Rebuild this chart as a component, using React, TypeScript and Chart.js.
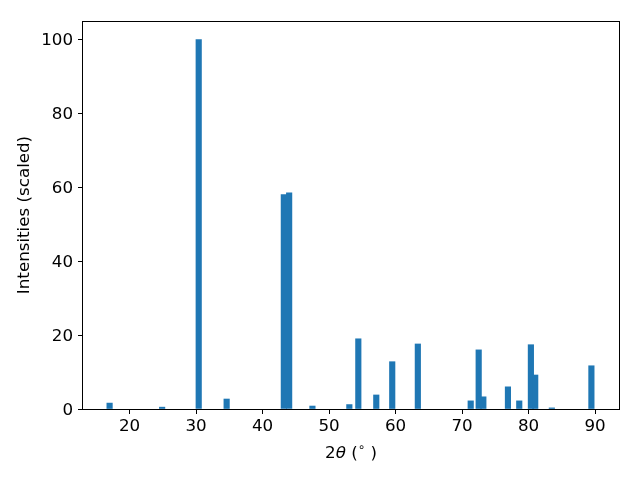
import { useEffect, useRef } from "react";
import { Chart, registerables } from "chart.js";

Chart.register(...registerables);

// Peak positions (2θ, degrees) and scaled intensities
const twoTheta = [17.0, 24.9, 30.4, 34.6, 43.2, 44.0, 47.5, 53.05, 54.4, 57.1, 59.5, 63.35, 71.3, 72.5, 73.2, 76.9, 78.6, 80.35, 81.0, 83.5, 89.45];
const intensities = [1.6, 0.5, 100, 2.7, 58.0, 58.5, 0.8, 1.2, 19.0, 3.8, 12.8, 17.6, 2.2, 16.0, 3.3, 6.0, 2.2, 17.4, 9.2, 0.3, 11.7];

const xTickValues = [20, 30, 40, 50, 60, 70, 80, 90];
const yTickValues = [0, 20, 40, 60, 80, 100];

const yLabel = "Intensities (scaled)";
// x label pieces: [text, style]
const xLabelParts: [string, string][] = [
  ["2", "normal"],
  ["θ", "italic"],
  [" (", "normal"],
  ["∘", "sup"],
  [" )", "normal"],
];

const FS = 16.7;
const FAMILY = "'DejaVu Sans', sans-serif";

const framePlugin = {
  id: "frame",
  afterDraw(chart: any) {
    const { ctx, chartArea: a } = chart;
    ctx.save();
    ctx.strokeStyle = "#000";
    ctx.lineWidth = 1;
    ctx.strokeRect(a.left - 0.5, a.top + 0.5, a.right - a.left + 1, a.bottom - a.top);

    // x axis label with mathtext-like styling
    const fontFor = (st: string) =>
      st === "italic" ? `italic ${FS}px ${FAMILY}` : st === "sup" ? `${FS * 0.7}px ${FAMILY}` : `${FS}px ${FAMILY}`;
    let total = 0;
    const widths = xLabelParts.map(([t, st]) => {
      ctx.font = fontFor(st);
      const w = ctx.measureText(t).width;
      total += w;
      return w;
    });
    const cx = (a.left + a.right) / 2;
    const baseY = 458;
    let x = cx - total / 2;
    ctx.fillStyle = "#000";
    ctx.textBaseline = "alphabetic";
    ctx.textAlign = "left";
    xLabelParts.forEach(([t, st], i) => {
      ctx.font = fontFor(st);
      ctx.fillText(t, x, st === "sup" ? baseY - FS * 0.42 : baseY);
      x += widths[i];
    });
    ctx.restore();
  },
};

export default function App() {
  const ref = useRef<HTMLCanvasElement | null>(null);
  useEffect(() => {
    if (!ref.current) return;
    Chart.defaults.font.family = FAMILY;
    const chart = new Chart(ref.current, {
      type: "bar",
      data: {
        datasets: [
          {
            data: twoTheta.map((x, i) => ({ x, y: intensities[i] })),
            backgroundColor: "#1f77b4",
            borderWidth: 0,
            barThickness: 5.5,
          },
        ],
      },
      options: {
        animation: false,
        responsive: false,
        maintainAspectRatio: false,
        layout: { padding: { top: 21, right: 21, left: 0, bottom: 0 } },
        plugins: { legend: { display: false }, tooltip: { enabled: false } },
        scales: {
          x: {
            type: "linear",
            min: 13,
            max: 93.6,
            offset: false,
            afterBuildTicks: (s: any) => {
              s.ticks = xTickValues.map((v) => ({ value: v }));
            },
            afterFit: (s: any) => {
              s.height = 71;
            },
            grid: { offset: false, drawOnChartArea: false, drawTicks: true, tickLength: 5, tickColor: "#000", tickWidth: 1 },
            border: { display: false },
            ticks: { color: "#000", font: { size: FS }, padding: 3, maxRotation: 0, autoSkip: false },
            title: { display: false },
          },
          y: {
            type: "linear",
            min: 0,
            max: 105,
            afterBuildTicks: (s: any) => {
              s.ticks = yTickValues.map((v) => ({ value: v }));
            },
            afterFit: (s: any) => {
              s.width = 83;
            },
            grid: { drawOnChartArea: false, drawTicks: true, tickLength: 5, tickColor: "#000", tickWidth: 1 },
            border: { display: false },
            ticks: { color: "#000", font: { size: FS }, padding: 5, autoSkip: false, labelOffset: 1.5 },
            title: { display: true, text: yLabel, color: "#000", font: { size: FS }, padding: { top: 15, bottom: 0 } },
          },
        },
      },
      plugins: [framePlugin],
    });
    return () => chart.destroy();
  }, []);
  return (
    <div style={{ position: "fixed", left: 0, top: 0, width: 640, height: 480, background: "#fff" }}>
      <canvas ref={ref} width={640} height={480} style={{ width: 640, height: 480, display: "block" }} />
    </div>
  );
}
